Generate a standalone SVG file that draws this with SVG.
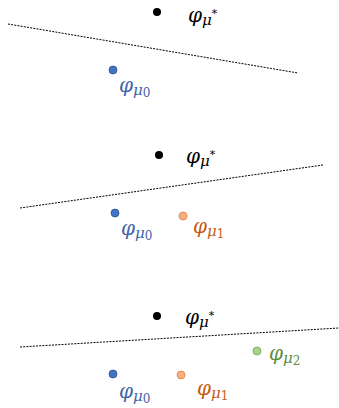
<svg xmlns="http://www.w3.org/2000/svg" width="339" height="408" viewBox="0 0 339 408">
<style>
.sep{stroke:#000;stroke-width:1;stroke-dasharray:2 1.2;fill:none}
.lbl{font-family:"DejaVu Serif","Liberation Serif",serif;font-style:italic;font-size:20px}
.mu{font-size:15px}
.d{font-style:normal;font-size:12px}
.st{font-style:normal;font-size:11px}
.k{fill:#000}
.b{fill:#3F64A8}
.o{fill:#C55A11}
.g{fill:#5E8C3E}
</style>
<rect width="339" height="408" fill="#fff"/>
<g id="connectors">
<line class="sep" x1="8" y1="24" x2="298" y2="73"/>
<line class="sep" x1="20" y1="208" x2="323" y2="165"/>
<line class="sep" x1="20" y1="347" x2="339" y2="328"/>
</g>
<g id="p1-star"><circle cx="157" cy="12" r="4" fill="#000"/><text class="lbl k" x="188" y="22">φ<tspan class="mu" dy="3">μ</tspan><tspan class="st" dy="-8">*</tspan></text></g>
<g id="p1-mu0"><circle cx="113" cy="70" r="4" fill="#4472C4" stroke="#2F528F" stroke-width="0.8"/><text class="lbl b" x="119" y="92">φ<tspan class="mu" dy="3">μ</tspan><tspan class="d" dy="2">0</tspan></text></g>
<g id="p2-star"><circle cx="159" cy="155" r="4" fill="#000"/><text class="lbl k" x="186" y="163">φ<tspan class="mu" dy="3">μ</tspan><tspan class="st" dy="-8">*</tspan></text></g>
<g id="p2-mu0"><circle cx="115" cy="213" r="4" fill="#4472C4" stroke="#2F528F" stroke-width="0.8"/><text class="lbl b" x="121" y="235">φ<tspan class="mu" dy="3">μ</tspan><tspan class="d" dy="2">0</tspan></text></g>
<g id="p2-mu1"><circle cx="183" cy="216" r="4" fill="#F4B183" stroke="#ED7D31" stroke-width="0.8"/><text class="lbl o" x="193" y="233">φ<tspan class="mu" dy="3">μ</tspan><tspan class="d" dy="2">1</tspan></text></g>
<g id="p3-star"><circle cx="157" cy="316" r="4" fill="#000"/><text class="lbl k" x="185" y="324">φ<tspan class="mu" dy="3">μ</tspan><tspan class="st" dy="-8">*</tspan></text></g>
<g id="p3-mu2"><circle cx="257" cy="351" r="4" fill="#A9D18E" stroke="#70AD47" stroke-width="0.8"/><text class="lbl g" x="269" y="360">φ<tspan class="mu" dy="3">μ</tspan><tspan class="d" dy="2">2</tspan></text></g>
<g id="p3-mu0"><circle cx="113" cy="374" r="4" fill="#4472C4" stroke="#2F528F" stroke-width="0.8"/><text class="lbl b" x="119" y="398">φ<tspan class="mu" dy="3">μ</tspan><tspan class="d" dy="2">0</tspan></text></g>
<g id="p3-mu1"><circle cx="181" cy="375" r="4" fill="#F4B183" stroke="#ED7D31" stroke-width="0.8"/><text class="lbl o" x="197" y="395">φ<tspan class="mu" dy="3">μ</tspan><tspan class="d" dy="2">1</tspan></text></g>
</svg>
